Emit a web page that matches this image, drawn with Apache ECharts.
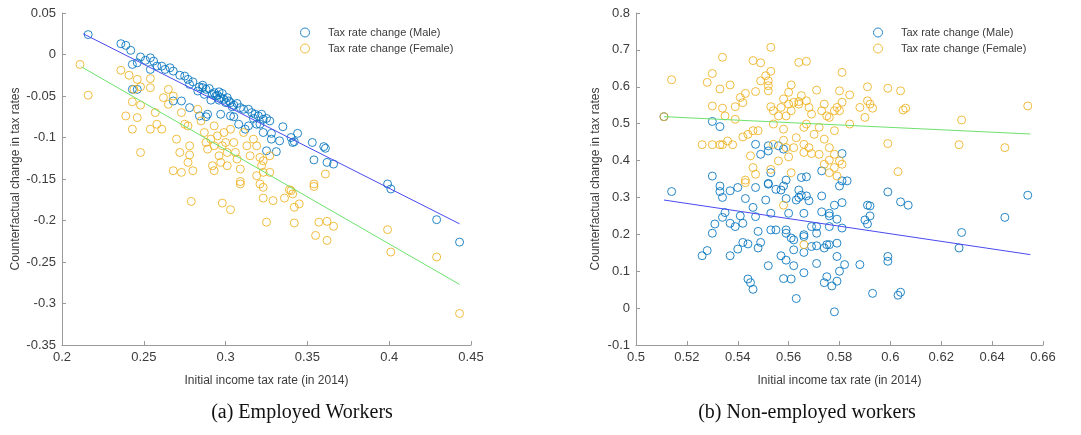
<!DOCTYPE html>
<html>
<head>
<meta charset="utf-8">
<script src="https://cdn.jsdelivr.net/npm/echarts@6/dist/echarts.min.js"></script>
<style>
  html, body { margin: 0; padding: 0; background: #fff; }
  #chart { width: 1081px; height: 435px; }
</style>
</head>
<body>
<div id="chart"></div>
<script>
// Panel (a): employed workers — [initial tax rate 2014, counterfactual change]
const employedMale = [
  [0.216,0.024],[0.236,0.013],[0.239,0.011],[0.242,0.005],[0.243,-0.012],[0.246,-0.010],
  [0.248,-0.003],[0.251,-0.007],[0.254,-0.004],[0.256,-0.008],[0.254,-0.018],[0.258,-0.014],
  [0.261,-0.014],[0.263,-0.018],[0.266,-0.016],[0.268,-0.020],[0.272,-0.025],[0.275,-0.026],
  [0.277,-0.030],[0.278,-0.036],[0.280,-0.033],[0.284,-0.039],[0.286,-0.037],[0.288,-0.042],
  [0.290,-0.041],[0.293,-0.046],[0.294,-0.050],[0.296,-0.045],[0.297,-0.052],[0.299,-0.054],
  [0.301,-0.052],[0.303,-0.058],[0.305,-0.061],[0.307,-0.059],[0.309,-0.064],[0.311,-0.066],
  [0.314,-0.066],[0.316,-0.070],[0.318,-0.072],[0.320,-0.074],[0.322,-0.072],[0.323,-0.078],
  [0.325,-0.077],[0.327,-0.080],[0.321,-0.084],[0.243,-0.042],[0.246,-0.042],[0.268,-0.056],
  [0.273,-0.056],[0.278,-0.064],[0.284,-0.074],[0.289,-0.072],[0.297,-0.072],[0.303,-0.074],
  [0.308,-0.084],[0.312,-0.090],[0.314,-0.086],[0.319,-0.084],[0.323,-0.094],[0.325,-0.116],
  [0.328,-0.102],[0.335,-0.087],[0.340,-0.100],[0.342,-0.105],[0.341,-0.106],[0.344,-0.095],
  [0.353,-0.106],[0.354,-0.127],[0.360,-0.111],[0.361,-0.113],[0.362,-0.130],[0.366,-0.132],
  [0.399,-0.156],[0.401,-0.162],[0.429,-0.199],[0.443,-0.226],[0.292,-0.048],[0.295,-0.049],
  [0.298,-0.047],[0.296,-0.055],[0.300,-0.058],[0.302,-0.056],[0.304,-0.063],[0.291,-0.055],
  [0.287,-0.048],[0.283,-0.044],[0.288,-0.075],[0.286,-0.040],[0.305,-0.075],[0.317,-0.077],
  [0.328,-0.095],[0.331,-0.117],[0.333,-0.104]
];
const employedFemale = [
  [0.211,-0.012],[0.216,-0.049],[0.236,-0.019],[0.241,-0.025],[0.244,-0.042],[0.248,-0.039],
  [0.254,-0.040],[0.254,-0.029],[0.246,-0.030],[0.239,-0.074],[0.243,-0.057],[0.246,-0.076],
  [0.248,-0.061],[0.243,-0.090],[0.248,-0.118],[0.254,-0.090],[0.257,-0.070],[0.258,-0.084],
  [0.261,-0.090],[0.262,-0.052],[0.265,-0.042],[0.265,-0.060],[0.268,-0.050],[0.270,-0.102],
  [0.272,-0.118],[0.273,-0.070],[0.275,-0.084],[0.277,-0.086],[0.278,-0.110],[0.278,-0.121],
  [0.277,-0.130],[0.268,-0.140],[0.273,-0.142],[0.280,-0.140],[0.283,-0.066],[0.285,-0.080],
  [0.287,-0.094],[0.288,-0.106],[0.289,-0.114],[0.291,-0.102],[0.293,-0.086],[0.293,-0.110],
  [0.295,-0.098],[0.296,-0.122],[0.297,-0.130],[0.298,-0.110],[0.299,-0.094],[0.300,-0.106],
  [0.301,-0.118],[0.292,-0.134],[0.293,-0.140],[0.301,-0.134],[0.303,-0.090],[0.305,-0.106],
  [0.306,-0.118],[0.307,-0.126],[0.309,-0.138],[0.311,-0.094],[0.313,-0.110],[0.315,-0.122],
  [0.317,-0.102],[0.319,-0.110],[0.321,-0.124],[0.322,-0.134],[0.323,-0.128],[0.309,-0.153],
  [0.319,-0.146],[0.323,-0.142],[0.327,-0.142],[0.321,-0.156],[0.327,-0.122],[0.340,-0.164],
  [0.354,-0.156],[0.361,-0.144],[0.279,-0.177],[0.298,-0.179],[0.303,-0.187],[0.309,-0.156],
  [0.323,-0.160],[0.323,-0.173],[0.329,-0.176],[0.336,-0.173],[0.339,-0.163],[0.341,-0.168],
  [0.342,-0.184],[0.345,-0.180],[0.325,-0.202],[0.342,-0.203],[0.354,-0.159],[0.357,-0.202],
  [0.355,-0.218],[0.362,-0.201],[0.366,-0.207],[0.362,-0.224],[0.399,-0.211],[0.401,-0.238],
  [0.429,-0.244],[0.443,-0.312]
];
const employedMaleFit = [[0.213,0.025],[0.443,-0.204]];
const employedFemaleFit = [[0.212,-0.015],[0.443,-0.277]];

// Panel (b): non-employed workers
const nonEmployedMale = [
  [0.511,0.519],[0.530,0.506],[0.533,0.492],[0.530,0.358],[0.533,0.331],[0.533,0.316],
  [0.514,0.316],[0.537,0.318],[0.540,0.327],[0.547,0.444],[0.549,0.417],[0.552,0.440],
  [0.552,0.426],[0.556,0.440],[0.558,0.431],[0.553,0.367],[0.547,0.327],[0.552,0.338],
  [0.555,0.322],[0.558,0.331],[0.559,0.347],[0.565,0.354],[0.567,0.356],[0.573,0.372],
  [0.580,0.331],[0.581,0.345],[0.583,0.345],[0.581,0.419],[0.599,0.315],
  [0.526,0.142],[0.528,0.156],[0.530,0.203],[0.531,0.228],[0.534,0.246],[0.535,0.259],
  [0.534,0.300],[0.537,0.230],[0.539,0.221],[0.537,0.142],[0.541,0.250],[0.542,0.230],
  [0.540,0.160],[0.542,0.178],[0.544,0.174],[0.543,0.297],[0.546,0.273],[0.547,0.248],
  [0.548,0.208],[0.549,0.178],[0.548,0.163],[0.544,0.079],[0.545,0.069],[0.546,0.051],
  [0.551,0.293],[0.552,0.336],[0.553,0.257],[0.553,0.212],[0.552,0.115],[0.555,0.212],
  [0.557,0.320],[0.557,0.142],[0.558,0.080],[0.559,0.297],[0.559,0.212],[0.559,0.203],
  [0.559,0.130],[0.560,0.257],[0.561,0.190],[0.562,0.185],[0.561,0.079],[0.562,0.115],
  [0.562,0.158],[0.563,0.026],[0.563,0.293],[0.564,0.320],[0.564,0.300],[0.565,0.306],
  [0.566,0.257],[0.566,0.199],[0.566,0.194],[0.566,0.151],[0.566,0.096],[0.567,0.304],
  [0.568,0.291],[0.569,0.221],[0.569,0.167],[0.571,0.121],[0.571,0.221],[0.571,0.203],
  [0.571,0.169],[0.573,0.304],[0.573,0.261],[0.574,0.163],[0.574,0.069],[0.575,0.172],
  [0.575,0.085],[0.576,0.257],[0.576,0.250],[0.576,0.221],[0.576,0.172],[0.577,0.060],
  [0.578,0.279],[0.579,0.241],[0.579,0.073],[0.578,-0.010],[0.579,0.140],[0.579,0.176],
  [0.580,0.100],[0.581,0.286],[0.581,0.217],[0.582,0.118],[0.588,0.118],[0.590,0.239],
  [0.591,0.279],[0.592,0.277],[0.591,0.228],[0.592,0.250],[0.593,0.040],[0.599,0.140],
  [0.599,0.127],[0.603,0.035],[0.604,0.043],[0.604,0.288],[0.607,0.279],[0.627,0.163],
  [0.628,0.205],[0.645,0.246],[0.654,0.306]
];
const nonEmployedFemale = [
  [0.514,0.619],[0.511,0.519],[0.528,0.612],[0.530,0.636],[0.534,0.680],[0.533,0.594],
  [0.530,0.548],[0.534,0.542],[0.537,0.605],[0.539,0.546],[0.541,0.571],[0.542,0.557],
  [0.543,0.582],[0.547,0.587],[0.546,0.671],[0.549,0.665],[0.553,0.707],[0.553,0.642],
  [0.551,0.630],[0.552,0.616],[0.549,0.616],[0.552,0.603],[0.552,0.589],[0.535,0.521],
  [0.539,0.512],[0.536,0.453],[0.538,0.443],[0.534,0.443],[0.526,0.443],[0.530,0.443],
  [0.533,0.443],[0.542,0.464],[0.544,0.471],[0.546,0.481],[0.548,0.481],[0.545,0.413],
  [0.546,0.381],[0.547,0.363],[0.543,0.340],[0.554,0.535],[0.553,0.546],[0.557,0.544],
  [0.556,0.521],[0.559,0.521],[0.561,0.535],[0.560,0.553],[0.558,0.567],[0.560,0.585],
  [0.561,0.605],[0.562,0.558],[0.564,0.560],[0.565,0.576],[0.564,0.553],[0.567,0.562],
  [0.564,0.666],[0.567,0.669],[0.568,0.544],[0.569,0.526],[0.571,0.591],[0.573,0.535],
  [0.574,0.553],[0.575,0.521],[0.576,0.517],[0.578,0.535],[0.579,0.544],[0.580,0.535],
  [0.581,0.558],[0.580,0.589],[0.581,0.639],[0.584,0.578],[0.584,0.499],[0.588,0.544],
  [0.590,0.517],[0.591,0.562],[0.591,0.600],[0.592,0.553],[0.593,0.542],[0.599,0.596],
  [0.604,0.589],[0.605,0.537],[0.606,0.542],[0.628,0.510],[0.627,0.443],[0.645,0.435],
  [0.654,0.548],[0.599,0.446],[0.603,0.370],[0.554,0.444],[0.558,0.455],[0.556,0.399],
  [0.560,0.410],[0.559,0.435],[0.563,0.462],[0.562,0.435],[0.566,0.490],[0.567,0.499],
  [0.566,0.444],[0.568,0.435],[0.566,0.422],[0.569,0.419],[0.572,0.417],[0.570,0.471],
  [0.572,0.490],[0.574,0.458],[0.576,0.435],[0.578,0.481],[0.578,0.417],[0.574,0.390],
  [0.576,0.401],[0.578,0.381],[0.580,0.399],[0.581,0.390],[0.576,0.367],[0.579,0.358],
  [0.561,0.367],[0.553,0.376],[0.554,0.499],[0.558,0.485],[0.543,0.347],[0.558,0.279],
  [0.566,0.172]
];
const nonEmployedMaleFit = [[0.511,0.293],[0.655,0.145]];
const nonEmployedFemaleFit = [[0.511,0.519],[0.655,0.472]];

const yTitle = 'Counterfactual change in tax rates';
const xTitle = 'Initial income tax rate (in 2014)';
const maleName = 'Tax rate change (Male)';
const femaleName = 'Tax rate change (Female)';
const captions = ['(a) Employed Workers', '(b) Non-employed workers'];

const BLUE = '#0072BD';
const ORANGE = '#EDB120';
const FIT_BLUE = '#4a4af0';
const FIT_GREEN = '#6ee26e';
const AXIS_GREY = '#9a9a9a';
const TEXT = '#3c3c3c';
const FONT = 'Liberation Sans, Arial, sans-serif';

const fmt = v => String(parseFloat(v.toFixed(3)));

function valueAxis(gridIndex, min, max, interval, extra) {
  return Object.assign({
    type: 'value', gridIndex, min, max, interval,
    axisLine: { show: true, onZero: false, lineStyle: { color: AXIS_GREY, width: 1 } },
    axisTick: { show: true, inside: true, length: 4, lineStyle: { color: AXIS_GREY } },
    splitLine: { show: false },
    axisLabel: { color: TEXT, fontSize: 13, fontFamily: FONT, formatter: fmt, margin: 6 },
    nameLocation: 'middle',
    nameTextStyle: { color: TEXT, fontSize: 12, fontFamily: FONT }
  }, extra);
}

function scatter(name, data, color, idx) {
  return {
    name, type: 'scatter', data, xAxisIndex: idx, yAxisIndex: idx,
    symbol: 'circle', symbolSize: 8,
    itemStyle: { color: 'rgba(0,0,0,0)', borderColor: color, borderWidth: 1, opacity: 0.85 },
    emphasis: { disabled: true }, z: 3
  };
}

function fit(data, color, idx) {
  return {
    name: 'fit', type: 'line', data, xAxisIndex: idx, yAxisIndex: idx,
    showSymbol: false, symbol: 'none', silent: true,
    lineStyle: { color, width: 1 }, z: 4
  };
}

function legend(left) {
  return {
    left, top: 22, orient: 'vertical', itemWidth: 36, itemHeight: 9, itemGap: 5,
    selectedMode: false,
    textStyle: { color: TEXT, fontSize: 11, fontFamily: FONT },
    data: [
      { name: maleName, icon: 'circle', itemStyle: { color: 'rgba(0,0,0,0)', borderColor: BLUE, borderWidth: 1 } },
      { name: femaleName, icon: 'circle', itemStyle: { color: 'rgba(0,0,0,0)', borderColor: ORANGE, borderWidth: 1 } }
    ]
  };
}

const chart = echarts.init(document.getElementById('chart'), null, { renderer: 'canvas' });
chart.setOption({
  backgroundColor: '#ffffff',
  animation: false,
  grid: [
    { left: 62, top: 13, width: 409, height: 332 },
    { left: 636, top: 13, width: 407, height: 332 }
  ],
  xAxis: [
    valueAxis(0, 0.2, 0.45, 0.05, { name: xTitle, nameGap: 30 }),
    valueAxis(1, 0.5, 0.66, 0.02, { name: xTitle, nameGap: 30 })
  ],
  yAxis: [
    valueAxis(0, -0.35, 0.05, 0.05, { name: yTitle, nameGap: 40 }),
    valueAxis(1, -0.1, 0.8, 0.1, { name: yTitle, nameGap: 34 })
  ],
  legend: [legend(295), legend(868)],
  title: [
    { text: captions[0], left: 297, top: 398, textAlign: 'center',
      textStyle: { fontFamily: 'Liberation Serif, serif', fontWeight: 'normal', fontSize: 20, color: '#111' } },
    { text: captions[1], left: 802, top: 398, textAlign: 'center',
      textStyle: { fontFamily: 'Liberation Serif, serif', fontWeight: 'normal', fontSize: 20, color: '#111' } }
  ],
  series: [
    scatter(maleName, employedMale, BLUE, 0),
    scatter(femaleName, employedFemale, ORANGE, 0),
    fit(employedMaleFit, FIT_BLUE, 0),
    fit(employedFemaleFit, FIT_GREEN, 0),
    scatter(maleName, nonEmployedMale, BLUE, 1),
    scatter(femaleName, nonEmployedFemale, ORANGE, 1),
    fit(nonEmployedMaleFit, FIT_BLUE, 1),
    fit(nonEmployedFemaleFit, FIT_GREEN, 1)
  ]
});
</script>
</body>
</html>
